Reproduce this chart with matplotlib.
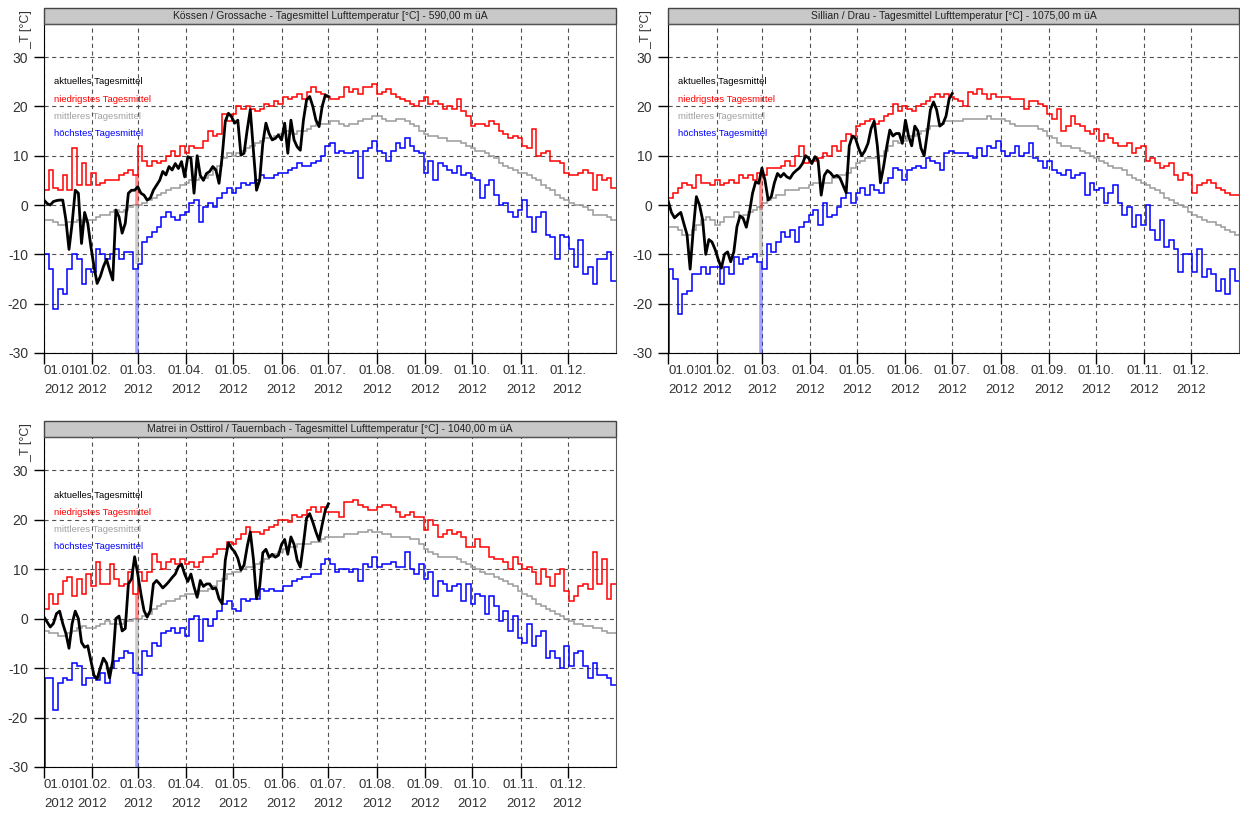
import numpy as np
import matplotlib
matplotlib.use("Agg")
import matplotlib.pyplot as plt
from matplotlib.patches import Rectangle

plt.rcParams['font.family'] = ['Liberation Sans', 'DejaVu Sans']
plt.rcParams['lines.scale_dashes'] = False

# Tagesmittel Lufttemperatur 2012
schritt = 3        # Tage je Wert bei niedrigstes / mittleres / hoechstes
schritt_akt = 2    # Tage je Wert beim aktuellen Tagesmittel
tag_29feb = 59

monate_tag = [0, 31, 60, 91, 121, 152, 182, 213, 244, 274, 305, 335]
monate_label = ["01.01.\n2012", "01.02.\n2012", "01.03.\n2012", "01.04.\n2012",
                "01.05.\n2012", "01.06.\n2012", "01.07.\n2012", "01.08.\n2012",
                "01.09.\n2012", "01.10.\n2012", "01.11.\n2012", "01.12.\n2012"]
y_ticks = [-30, -20, -10, 0, 10, 20, 30]

legende = ["aktuelles Tagesmittel", "niedrigstes Tagesmittel",
           "mittleres Tagesmittel", "höchstes Tagesmittel"]

# ---- Kössen / Grossache
koessen_titel = "Kössen / Grossache - Tagesmittel Lufttemperatur [°C] - 590,00 m üA"
koessen_niedrig = [
    3, 7, 3.5, 3, 6, 3, 11.5, 4, 8.5, 4,
    6.5, 4, 4.5, 5, 5, 5, 6, 6.5, 7, 6,
    12, 9, 8, 9, 8.5, 9, 10, 11, 10, 12,
    10.5, 12, 11.5, 11.5, 13, 15, 14, 14.5, 18.5, 17,
    18.5, 20, 19.5, 20, 19.5, 19, 19.5, 20.5, 20, 21,
    20.5, 22, 21.5, 22, 22.5, 21.5, 23, 24, 23, 22.5,
    22, 21.5, 21.5, 22, 24, 23, 23.5, 22.5, 24, 24,
    24.5, 22.5, 23, 23.5, 22.5, 22, 21.5, 21, 20.5, 20,
    21, 22, 20.5, 21, 20.5, 19.5, 20, 19.5, 21.5, 19,
    18, 16, 16.5, 16.5, 16, 17, 16.5, 15, 14.5, 13.5,
    14, 13.5, 12, 11.5, 15.5, 10, 10.5, 11, 9, 9,
    8.5, 6.5, 6, 6, 6.5, 7, 6.5, 3, 6, 5,
    5.5, 3.5]
koessen_mittel = [
    -3, -3, -3.5, -4, -4, -3.5, -3.5, -3, -3.5, -3,
    -3, -2.5, -2, -2, -1.5, -1, -1.5, -1, -0.5, 0,
    0, 0.5, 1, 1.5, 2, 2.5, 3, 3.5, 3.5, 4,
    4.5, 5, 5, 5.5, 5.5, 6, 7, 8, 9.5, 10.5,
    10, 10.5, 11, 11.5, 12, 12.5, 13, 13.5, 13.5, 14,
    14.5, 15, 15, 14.5, 15, 15, 15.5, 16, 16.5, 16.5,
    16.5, 17, 17, 16.5, 16, 16.5, 16.5, 17, 17.5, 17.5,
    18, 18, 17.5, 17, 17, 17.5, 17.5, 17, 16.5, 16,
    15, 14.5, 14, 14, 13.5, 13.5, 13, 13, 13, 12.5,
    12, 11.5, 11, 11, 10.5, 10, 9.5, 8.5, 8, 7.5,
    7, 6.5, 6.5, 6, 5.5, 5, 4, 3.5, 3, 2,
    1.5, 1, 0.5, 0, 0, -0.5, -1, -2, -2, -2,
    -2.5, -3]
koessen_hoechst = [
    -10, -13, -21, -17, -18, -13, -10, -11, -16, -13,
    -13.5, -9, -10, -11, -10, -9, -11, -9.5, -9.5, -13,
    -12, -7.5, -6.5, -5.5, -4.5, -2.5, -1.5, -2.5, -3, -2,
    -1.5, 0.5, 1, -3.5, -0.5, 0.5, -0.5, 1.5, 2.5, 3.5,
    2.5, 3.5, 4.5, 4, 4.5, 5, 6, 5.5, 5.5, 6,
    6.5, 6.5, 7, 7.5, 8.5, 8, 8, 8.5, 9, 10,
    12, 12.5, 10.5, 11, 10.5, 10.5, 11, 5.5, 11, 11.5,
    13, 11, 10.5, 9, 11, 12.5, 11.5, 13.5, 12, 11,
    10.5, 6.5, 9, 5, 8.5, 8, 7, 6.5, 8, 6,
    6.5, 5.5, 5, 1.5, 4, 5, 2, 0, 0.5, -1.5,
    -2.5, -1, 1, -2.5, -5.5, -2.5, -1.5, -6, -6.5, -11,
    -6, -6.5, -9, -12.5, -7, -14, -12.5, -16, -11, -11,
    -9.5, -15.5]
koessen_aktuell = [
    1, 0.3, 0, 0.7, 0.9, 1, 1, -3, -9, -3.7,
    3, 2.4, -7.8, -1.5, -3.7, -8.4, -12.5, -15.9, -14.5, -12.5,
    -11, -13.2, -15.2, -1, -2.4, -5.7, -3.7, 2.4, 3, 3,
    3.7, 2.4, 2, 1, 1.4, 3, 4, 5, 6.8, 6.1,
    7.8, 7.1, 8.4, 7.4, 8.8, 5.7, 9.8, 9.5, 2.4, 10,
    6, 5, 6.4, 6.8, 7.8, 7.1, 4.4, 9.8, 17, 18.6,
    17.9, 16.6, 17.2, 10.1, 10.5, 15.2, 19.3, 11, 3, 5,
    12.5, 16.6, 14.5, 13.2, 13.5, 14.2, 13.2, 16.6, 10.5, 17.2,
    13.2, 11.8, 11.1, 17.2, 21.3, 22, 20, 17.2, 15.9, 20,
    22.3, 22]
koessen_29feb = [0, -12, -40]      # niedrigstes, mittleres, hoechstes
koessen_start_hoechst = None

# ---- Sillian / Drau
sillian_titel = "Sillian / Drau - Tagesmittel Lufttemperatur [°C] - 1075,00 m üA"
sillian_niedrig = [
    1.5, 2.5, 3.5, 4.5, 4, 3.5, 6, 4.5, 4.5, 4,
    5, 4, 4.5, 5, 4.5, 6, 5.5, 6, 5, 6.5,
    6, 7.5, 7.5, 7.5, 8, 9, 8, 10, 12, 8.5,
    9, 9, 9.5, 10.5, 10, 12, 11, 13, 14.5, 14,
    16, 16.5, 17, 17.5, 16.5, 17, 18, 18.5, 20.5, 19,
    20, 19.5, 19, 20, 20.5, 21, 22, 22.5, 22, 22.5,
    22, 21.5, 21, 20, 23, 22.5, 23.5, 22.5, 21.5, 22.5,
    22, 22, 22, 21.5, 21.5, 21.5, 19.5, 21, 21, 20.5,
    20, 18.5, 17.5, 19.5, 15, 16, 18, 16.5, 16, 15,
    14.5, 15.5, 13, 14.5, 13.5, 12.5, 12, 12, 12.5, 10.5,
    11.5, 12, 9, 9.5, 8.5, 7.5, 8, 8.5, 6, 5,
    6.5, 6, 2.5, 4, 4.5, 5, 4.5, 3.5, 3, 2.5,
    2, 2]
sillian_mittel = [
    -4.5, -4.5, -5, -6, -6, -5, -4, -3, -2.5, -3,
    -4, -3.5, -2.5, -2.5, -1.5, -2.5, -2, -1.5, -1, -0.5,
    0.5, 1, 1.5, 2, 2, 3, 3, 3, 3.5, 3.5,
    4, 4.5, 4.5, 4.5, 4.5, 5.5, 6, 6, 6.5, 7.5,
    8.5, 9, 9.5, 9.5, 9.5, 10, 11, 12, 13, 12.5,
    13, 14, 14, 14.5, 15, 15.5, 16, 16, 16.5, 17,
    17, 17, 17, 17.5, 17.5, 17.5, 17.5, 17.5, 18, 17.5,
    17.5, 17.5, 17, 16.5, 16, 16, 16, 16, 16, 15.5,
    15, 14, 13.5, 12.5, 12, 12, 11.5, 11.5, 11, 10.5,
    10, 9.5, 9, 8.5, 8, 7.5, 7.5, 7, 6, 5.5,
    5, 4.5, 4, 3.5, 3, 2.5, 1.5, 1, 0.5, 0,
    -0.5, -1.5, -2, -2.5, -3, -3.5, -3.5, -4, -4.5, -5,
    -5.5, -6]
sillian_hoechst = [
    -13, -15, -22, -18, -17.5, -14, -14, -12.5, -14, -12.5,
    -12.5, -16, -12.5, -14, -10.5, -12, -11, -10.5, -10, -11.5,
    -13, -8, -9.5, -7.5, -5.5, -6.5, -5, -7.5, -4.5, -3.5,
    -2, -1, -4, 0.5, -2.5, -2, -0.5, 1.5, 2.5, 0.5,
    2.5, 3.5, 2, 4, 3, 2.5, 4.5, 5.5, 7.5, 7,
    5, 7, 7.5, 8, 7.5, 9.5, 9, 8.5, 7, 10.5,
    11, 10.5, 10.5, 10.5, 10, 9.5, 11.5, 10, 12, 11.5,
    13, 11, 10, 10.5, 12, 10, 10.5, 12.5, 9.5, 9,
    7.5, 9, 7, 6.5, 6, 7, 5.5, 6, 6.5, 2,
    4.5, 3, 3.5, 0.5, 2.5, 4, 0.5, -2, -0.5, -4.5,
    -2, -4, 0, -5, -7, -3, -8.5, -7, -9, -13.5,
    -10, -10, -13.5, -9, -14.5, -13, -14, -17.5, -15, -18,
    -13, -15.5]
sillian_aktuell = [
    0.7, -1.5, -2.6, -2, -1.5, -3.8, -6, -13, -5, 1.7,
    0, -3, -10, -7, -7.5, -9, -11, -12.8, -10, -9.5,
    -11.5, -9.5, -4.4, -2.2, -2.7, -4.5, -1.5, 2.4, 4.7, 4.4,
    7.5, 5, 1, 1.7, 4.5, 6.4, 5.7, 6.4, 5.7, 5.4,
    6.4, 7, 7.5, 8.4, 10, 9.5, 8.4, 9.8, 9, 2,
    6, 7, 6.5, 5.7, 6, 5.5, 4, 2.5, 12, 14,
    13.5, 11.5, 10, 11, 12.5, 15.5, 17, 12, 4.5, 7.8,
    11.8, 15.2, 14, 14.5, 14.5, 12.5, 17.2, 14, 12, 16,
    15, 11.5, 10, 14.5, 19.3, 20.9, 19.3, 16, 16.5, 18,
    21.5, 22.6]
sillian_29feb = [-1, -10.5, -40]
sillian_start_hoechst = -40

# ---- Matrei in Osttirol / Tauernbach
matrei_titel = "Matrei in Osttirol / Tauernbach - Tagesmittel Lufttemperatur [°C] - 1040,00 m üA"
matrei_niedrig = [
    2, 5, 3, 5, 7.5, 8.5, 4.5, 8, 5, 9,
    6.5, 11.5, 7, 7, 11, 8, 6.5, 7, 9.5, 5,
    9.5, 7.5, 9.5, 13, 11.5, 10, 11.5, 12, 11, 12,
    11, 11.5, 10.5, 11.5, 12.5, 12.5, 13, 14, 14, 15.5,
    15, 16, 17, 18.5, 17.5, 17.5, 17, 18, 18.5, 19,
    20, 20, 19.5, 21, 20.5, 21, 22, 22.5, 21.5, 22.5,
    21.5, 21.5, 21.5, 20.5, 23.5, 23.5, 24, 23, 22.5, 22,
    22, 22.5, 23, 23, 22.5, 21.5, 20.5, 21, 21.5, 20.5,
    20.5, 18, 20, 19, 16.5, 17, 18, 17, 17.5, 16.5,
    14.5, 14.5, 16, 14.5, 14.5, 12.5, 12, 12, 11.5, 10,
    12.5, 11, 10, 10.5, 9.5, 7, 10, 8.5, 6.5, 9,
    10, 5.5, 3.5, 4.5, 6.5, 7, 6, 13.5, 7, 12,
    4, 7]
matrei_mittel = [
    -2.5, -3, -3, -3.5, -3.5, -3, -2.5, -2, -1.5, -2,
    -2, -1.5, -1, -0.5, -1, -1, -1, -0.5, -0.5, 0,
    0, 0.5, 1, 2, 2.5, 3, 3.5, 3.5, 4, 4.5,
    5, 5, 5, 5.5, 5.5, 6, 6.5, 7.5, 8, 9,
    9.5, 9.5, 10, 10.5, 10.5, 11, 11.5, 12, 12.5, 13,
    13.5, 14, 14.5, 14.5, 15, 15, 15, 15.5, 15.5, 16,
    16.5, 16.5, 16.5, 16.5, 17, 17, 17, 17.5, 17.5, 18,
    17.5, 17.5, 17, 17, 16.5, 16.5, 16.5, 16.5, 16, 16,
    15, 14, 13.5, 13, 12.5, 12.5, 12.5, 12.5, 12, 11.5,
    11, 10.5, 10, 9.5, 9, 9, 8.5, 8, 7.5, 7,
    6.5, 5.5, 5, 4.5, 4, 3, 2.5, 2, 1.5, 1,
    0.5, 0, -0.5, -1, -1, -1.5, -1.5, -2, -2, -2.5,
    -3, -3]
matrei_hoechst = [
    -12, -12, -18.5, -13, -12, -12.5, -9, -9.5, -13.5, -12,
    -12, -12.5, -11, -13, -10, -8.5, -8, -6.5, -7, -11,
    -11.5, -6.5, -7.5, -5, -5.5, -3, -2.5, -2, -3, -2,
    -3.5, 0, 0.5, -4.5, 0, -1.5, 0, 1.5, 3, 3.5,
    2, 1.5, 4, 3.5, 4, 4, 6, 5.5, 6, 5.5,
    5.5, 6.5, 6.5, 7.5, 8, 8.5, 8.5, 9, 9, 11,
    12, 11, 9.5, 10, 10, 9.5, 10, 7.5, 11, 10.5,
    12.5, 10.5, 11, 11, 11.5, 10.5, 10.5, 13.5, 10, 9,
    11, 8, 9.5, 4.5, 7.5, 7, 5.5, 6.5, 7, 3.5,
    7, 3, 5, 4.5, 1, 4.5, 2.5, -0.5, 1.5, -2.5,
    0.5, -4, -5, -1, -5.5, -3.5, -2.5, -8, -6.5, -8,
    -10, -5.5, -9.5, -7, -6.5, -9.5, -12, -9, -11.5, -11.5,
    -12, -13.5]
matrei_aktuell = [
    0.3, -0.7, -1.7, -1, 1, 1.5, -1, -3, -6, -1,
    1.5, 0, -4.8, -5.8, -5.5, -8.5, -11.5, -12.2, -10, -8,
    -9, -12, -8.5, 0, 0.5, -2.5, -2, 7, 8, 12.5,
    9, 5, 1.6, 0.3, 1.6, 7, 7.7, 7, 6.2, 6.8,
    7.5, 8.3, 9, 10.5, 11, 9, 7.5, 9, 6.4, 4.3,
    7.7, 6.5, 7, 7, 6, 6.2, 4, 3, 11.8, 15.3,
    14.2, 13.5, 12.2, 9.8, 10.8, 14.5, 17.5, 12, 4, 6.5,
    13.3, 14, 12.4, 13, 12.4, 12.8, 15, 16, 13, 16.5,
    15, 11.8, 10.4, 15.1, 20.3, 21.2, 19.5, 17.5, 15.8, 19,
    21.9, 23.2]
matrei_29feb = [0, -11, -40]
matrei_start_hoechst = -40

farben = ["black", "#ff0000", "#9a9a9a", "#0000ff"]
spike_farben = ["#ff0000", "#8c8c8c", "#3030ff"]

fig = plt.figure(figsize=(12.4, 8.16), dpi=100)
W, H = 1240, 816


def zeichne(rect, titel, akt, niedrig, mittel, hoechst, feb29, start_hoechst, ylab_x):
    ax = fig.add_axes(rect)
    kante = np.arange(len(niedrig) + 1) * schritt
    reihen = [niedrig, mittel, hoechst]
    for werte, farbe in zip(reihen, farben[1:]):
        ax.stairs(werte, kante, baseline=None, color=farbe, lw=1.1, zorder=2)
    # Ausreisser am 29.02.
    for werte, spike, farbe in zip(reihen, feb29, spike_farben):
        ax.vlines(tag_29feb + 0.5, werte[tag_29feb // schritt], spike,
                  colors=farbe, lw=2.6, alpha=0.45, zorder=2)
    if start_hoechst is not None:
        ax.vlines(0.6, hoechst[0], start_hoechst, colors=farben[3], lw=1.1, zorder=2)
    tage_akt = np.arange(len(akt)) * schritt_akt
    ax.plot(tage_akt, akt, color=farben[0], lw=2.0, zorder=3)

    ax.set_xlim(0, 366)
    ax.set_ylim(-30, 36.7)
    ax.set_xticks(monate_tag)
    ax.set_xticklabels(monate_label)
    ax.set_yticks(y_ticks)
    ax.set_yticklabels([str(v) for v in y_ticks])
    ax.tick_params(axis='x', length=8, width=1, pad=0.5, labelsize=9.5, labelcolor='#333333')
    ax.tick_params(axis='y', length=7.5, width=1, pad=4, labelsize=10, labelcolor='#333333')
    for i, lab in enumerate(ax.get_xticklabels()):
        lab.set_linespacing(1.85)
        lab.set_bbox(dict(facecolor='white', edgecolor='none', pad=0))
        if i == 0:
            lab.set_horizontalalignment('left')
    ax.grid(True, color='#505050', lw=0.8, linestyle=(0, (3, 2.5)))
    ax.set_axisbelow(True)
    for s in ['left', 'bottom']:
        ax.spines[s].set_color('black')
    for s in ['right', 'top']:
        ax.spines[s].set_color('#555555')

    # grauer Titelbalken
    hb = 16 / (rect[3] * H)
    ax.add_patch(Rectangle((0, 1), 1, hb, transform=ax.transAxes, clip_on=False,
                           facecolor='#c8c8c8', edgecolor='#444444', lw=1))
    ax.text(0.5, 1 + hb / 2, titel, transform=ax.transAxes, ha='center', va='center',
            fontsize=7.5, color='#222222')

    for j, (txt, farbe) in enumerate(zip(legende, farben)):
        ax.text(0.0175, 0.824 - j * 0.052, txt, transform=ax.transAxes,
                fontsize=6.8, color=farbe if j != 2 else '#a0a0a0', va='center')

    top = rect[1] + rect[3] + hb * rect[3]
    fig.text(ylab_x / W, top - 2 / H, "_T [°C]", rotation=90, ha='center', va='top',
             fontsize=9, color='#333333')
    return ax


zeichne([44 / W, 1 - 353 / H, 572 / W, 329 / H], koessen_titel, koessen_aktuell,
        koessen_niedrig, koessen_mittel, koessen_hoechst, koessen_29feb,
        koessen_start_hoechst, 26)
zeichne([668.3 / W, 1 - 353 / H, 571 / W, 329 / H], sillian_titel, sillian_aktuell,
        sillian_niedrig, sillian_mittel, sillian_hoechst, sillian_29feb,
        sillian_start_hoechst, 646)
zeichne([44 / W, 1 - 767 / H, 572 / W, 330 / H], matrei_titel, matrei_aktuell,
        matrei_niedrig, matrei_mittel, matrei_hoechst, matrei_29feb,
        matrei_start_hoechst, 26)

fig.savefig("out.png", dpi=100)
